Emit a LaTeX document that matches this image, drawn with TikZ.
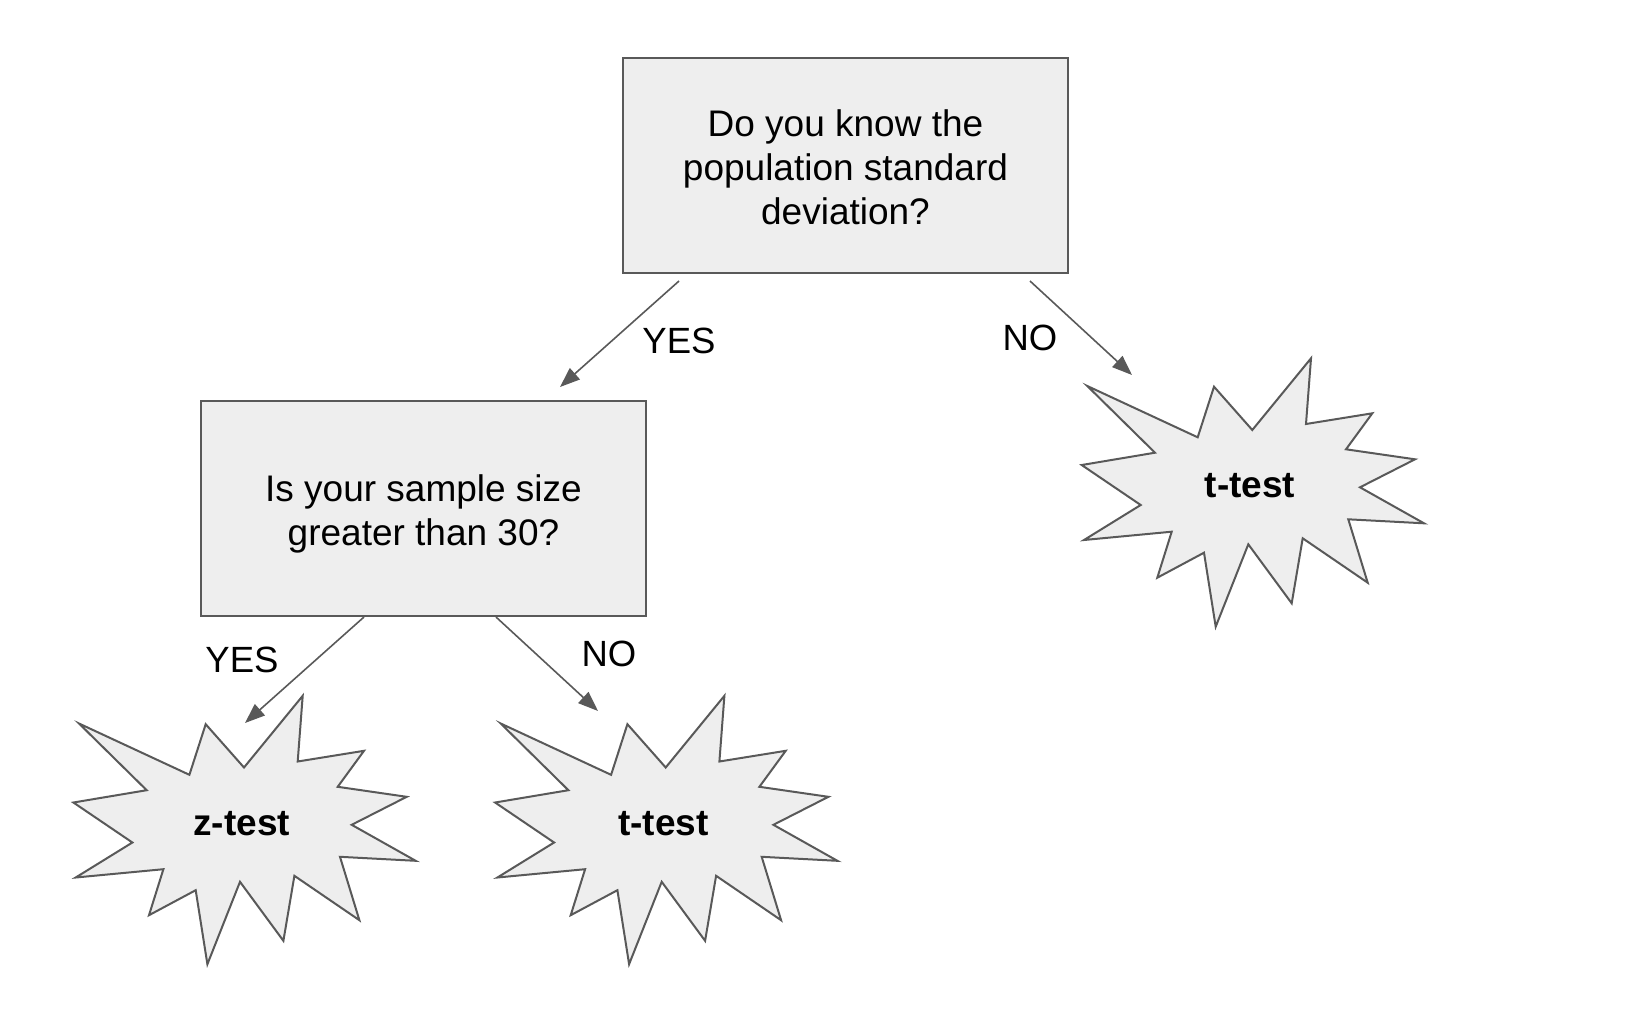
\documentclass[tikz,border=0pt]{standalone}
\usepackage{fontspec}
\setmainfont{Liberation Sans}
\usetikzlibrary{arrows.meta}
\definecolor{boxfill}{HTML}{EEEEEE}
\definecolor{edge}{HTML}{595959}
\tikzset{
  qbox/.style={draw=edge, line width=2pt, fill=boxfill, minimum width=445pt, minimum height=215pt, inner sep=0pt},
  qtext/.style={align=center, inner sep=0pt, font=\fontsize{37}{44}\selectfont},
  ans/.style={font=\fontsize{37}{43}\selectfont\bfseries, inner sep=0pt},
  lbl/.style={font=\fontsize{36.5}{43}\selectfont, inner sep=0pt},
  conn/.style={draw=edge, line width=1.6pt, -{Triangle[length=20pt,width=15pt]}},
  starline/.style={draw=edge, line width=2pt, fill=boxfill, line join=miter},
  starburst/.pic={
    \path[starline] (-162.7,-101) -- (-52.3,-49.7) -- (-36,-100.3) -- (2.3,-57) -- (61,-128.7)
      -- (56,-63) -- (122.3,-73.7) -- (96,-37.7) -- (165,-27.7) -- (110,0.3) -- (174,36.3)
      -- (98.3,32.3) -- (117.7,95.7) -- (52.7,51.3) -- (41.7,116.3) -- (-1.7,57.3)
      -- (-34.3,139.7) -- (-46,65.7) -- (-92.7,90.7) -- (-78.3,44.7) -- (-166,53)
      -- (-109.3,18) -- (-168.3,-22) -- (-95,-34.3) -- cycle;
  }
}
\begin{document}
\begin{tikzpicture}[x=1pt,y=-1pt]
\useasboundingbox (0,0) rectangle (1626,1026);
\node[qbox] (q1) at (845.5,165.5) {};
\node[qtext] (q1t) at (845.5,167.5) {Do you know the\\population standard\\deviation?};
\node[qbox] (q2) at (423.5,508.5) {};
\node[qtext] (q2t) at (423.5,513.5) {Is your sample size\\greater than 30?};

\pic at (1250,487) {starburst};
\pic at (241.7,824.5) {starburst};
\pic at (663.4,824.5) {starburst};
\node[ans] (t1) at (1250,486) {t-test};
\node[ans] (z2) at (241.7,823.5) {z-test};
\node[ans] (t2) at (663.4,823.5) {t-test};

\coordinate (a1s) at (679,281);
\coordinate (a1e) at (560,387);
\coordinate (a2s) at (1030,281);
\coordinate (a2e) at (1132,375);
\coordinate (a3s) at (364,617);
\coordinate (a3e) at (245,723);
\coordinate (a4s) at (496,617);
\coordinate (a4e) at (598,711);
\draw[conn] (a1s) -- (a1e);
\draw[conn] (a2s) -- (a2e);
\draw[conn] (a3s) -- (a3e);
\draw[conn] (a4s) -- (a4e);

\node[lbl] (y1) at (679,341) {YES};
\node[lbl] (n1) at (1030,338) {NO};
\node[lbl] (y2) at (242,660) {YES};
\node[lbl] (n2) at (609,654) {NO};
\end{tikzpicture}
\end{document}
